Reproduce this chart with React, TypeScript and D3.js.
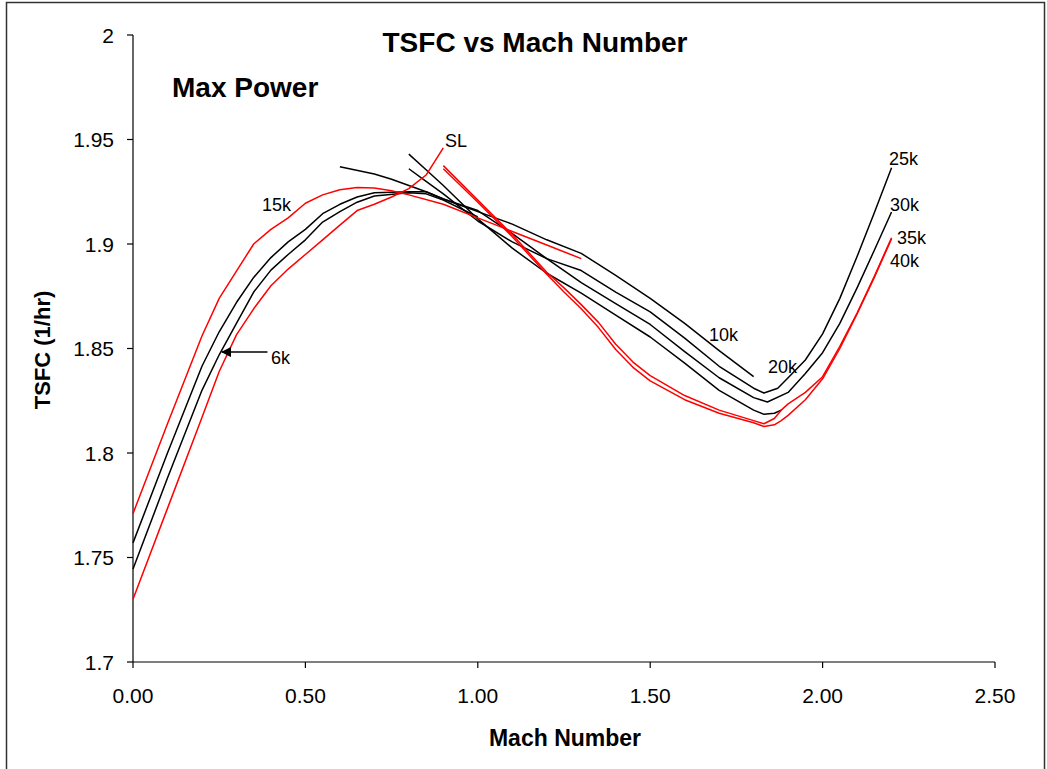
import React from "react";
import * as d3 from "d3";

// ---- Data ----
const xTicks = [0, 0.5, 1.0, 1.5, 2.0, 2.5];
const yTicks = [1.7, 1.75, 1.8, 1.85, 1.9, 1.95, 2.0];

const machSL = [0, 0.1, 0.2, 0.25, 0.3, 0.35, 0.4, 0.45, 0.5, 0.55, 0.6, 0.65, 0.7, 0.75, 0.8, 0.85, 0.9];
const tsfcSL = [1.730, 1.7735, 1.817, 1.839, 1.8565, 1.869, 1.880, 1.888, 1.895, 1.902, 1.909, 1.916, 1.919, 1.9225, 1.9265, 1.933, 1.946];

const mach6k = [0, 0.1, 0.2, 0.25, 0.3, 0.35, 0.4, 0.45, 0.5, 0.55, 0.6, 0.65, 0.7, 0.8, 0.85, 0.9, 0.95, 1.0];
const tsfc6k = [1.7445, 1.788, 1.830, 1.847, 1.862, 1.877, 1.8875, 1.895, 1.902, 1.9105, 1.9155, 1.920, 1.923, 1.9245, 1.924, 1.921, 1.917, 1.913];

const mach10k = [0, 0.1, 0.2, 0.25, 0.3, 0.35, 0.4, 0.45, 0.5, 0.55, 0.6, 0.65, 0.7, 0.8, 0.85, 0.9, 1.0, 1.1, 1.2, 1.3, 1.4, 1.5, 1.6, 1.7, 1.8];
const tsfc10k = [1.757, 1.800, 1.8415, 1.858, 1.872, 1.884, 1.8935, 1.901, 1.907, 1.9145, 1.919, 1.9225, 1.9245, 1.925, 1.925, 1.9215, 1.9155, 1.9095, 1.902, 1.8955, 1.885, 1.874, 1.862, 1.849, 1.8365];

const mach15k = [0, 0.1, 0.2, 0.25, 0.3, 0.35, 0.4, 0.45, 0.5, 0.55, 0.6, 0.65, 0.7, 0.75, 0.8, 0.9, 1.0, 1.1, 1.2, 1.3];
const tsfc15k = [1.771, 1.814, 1.856, 1.874, 1.887, 1.900, 1.907, 1.9125, 1.9195, 1.9235, 1.926, 1.927, 1.9268, 1.9255, 1.9235, 1.919, 1.9125, 1.906, 1.8995, 1.893];

const mach20k = [0.8, 0.85, 0.9, 1.0, 1.1, 1.2, 1.3, 1.4, 1.5, 1.6, 1.7, 1.8, 1.83, 1.86, 1.88];
const tsfc20k = [1.943, 1.9355, 1.928, 1.912, 1.898, 1.886, 1.8765, 1.866, 1.8555, 1.843, 1.830, 1.8205, 1.8185, 1.819, 1.8205];

const mach25k = [0.8, 0.85, 0.9, 1.0, 1.1, 1.2, 1.3, 1.4, 1.5, 1.6, 1.7, 1.8, 1.83, 1.87, 1.9, 1.95, 2.0, 2.05, 2.1, 2.15, 2.2];
const tsfc25k = [1.936, 1.930, 1.924, 1.911, 1.901, 1.893, 1.8873, 1.877, 1.8675, 1.855, 1.8415, 1.831, 1.8287, 1.831, 1.836, 1.8445, 1.857, 1.874, 1.894, 1.915, 1.9365];

const mach30k = [0.6, 0.7, 0.75, 0.8, 0.85, 0.9, 1.0, 1.1, 1.2, 1.3, 1.4, 1.5, 1.6, 1.7, 1.8, 1.84, 1.9, 1.95, 2.0, 2.05, 2.1, 2.15, 2.2];
const tsfc30k = [1.937, 1.9335, 1.931, 1.928, 1.925, 1.9215, 1.916, 1.905, 1.893, 1.8815, 1.8715, 1.8615, 1.8485, 1.836, 1.8265, 1.8244, 1.829, 1.838, 1.848, 1.862, 1.879, 1.897, 1.9153];

const machHigh = [0.9, 1.0, 1.1, 1.2, 1.25, 1.3, 1.35, 1.4, 1.45, 1.5, 1.6, 1.7, 1.8, 1.83, 1.86, 1.88, 1.9, 1.95, 2.0, 2.05, 2.1, 2.15, 2.2];
const tsfc35k = [1.9375, 1.921, 1.9045, 1.8865, 1.879, 1.871, 1.8625, 1.852, 1.8435, 1.837, 1.8275, 1.8205, 1.8155, 1.814, 1.8165, 1.8205, 1.8235, 1.829, 1.8365, 1.851, 1.867, 1.8845, 1.903];
const tsfc40k = [1.936, 1.920, 1.9035, 1.8855, 1.877, 1.869, 1.860, 1.8495, 1.841, 1.8345, 1.8255, 1.819, 1.8145, 1.8127, 1.8135, 1.8155, 1.818, 1.8255, 1.8355, 1.850, 1.8665, 1.884, 1.9025];

const seriesNames = ["6k", "10k", "20k", "25k", "30k", "SL", "15k", "35k", "40k"];
const seriesMach = [mach6k, mach10k, mach20k, mach25k, mach30k, machSL, mach15k, machHigh, machHigh];
const seriesTsfc = [tsfc6k, tsfc10k, tsfc20k, tsfc25k, tsfc30k, tsfcSL, tsfc15k, tsfc35k, tsfc40k];
const seriesColor = ["#000000", "#000000", "#000000", "#000000", "#000000", "#ff0000", "#ff0000", "#ff0000", "#ff0000"];

// Annotation labels: text, anchor at (mach, tsfc) = left / baseline
const labelText = ["SL", "15k", "6k", "10k", "20k", "25k", "30k", "35k", "40k"];
const labelMach = [0.905, 0.374, 0.400, 1.6705, 1.8417, 2.1926, 2.1955, 2.2158, 2.1955];
const labelTsfc = [1.9464, 1.9160, 1.8428, 1.8534, 1.8385, 1.9380, 1.9160, 1.9002, 1.8892];

const W = 1047;
const H = 769;
const FONT = "'Liberation Sans', Arial, Helvetica, sans-serif";

export default function App() {
  const x = d3.scaleLinear().domain([0, 2.5]).range([133, 995]);
  const y = d3.scaleLinear().domain([1.7, 2.0]).range([662, 35]);

  const line = d3
    .line<[number, number]>()
    .x((d) => x(d[0]))
    .y((d) => y(d[1]))
    .curve(d3.curveLinear);

  const fmtY = (v: number) => {
    const s = d3.format(".2f")(v);
    return s.replace(/0$/, "").replace(/\.0$/, "").replace(/\.$/, "");
  };

  return (
    <svg
      width={W}
      height={H}
      style={{ position: "absolute", left: 0, top: 0, background: "#fff" }}
      fontFamily={FONT}
    >
      <rect x={0} y={0} width={W} height={H} fill="#fff" />
      {/* outer frame */}
      <rect x={6.5} y={2.5} width={1038} height={800} fill="none" stroke="#333" strokeWidth={1.5} />

      {/* axes */}
      <line x1={x(0)} x2={x(0)} y1={y(2.0)} y2={y(1.7)} stroke="#000" strokeWidth={1.2} />
      <line x1={x(0)} x2={x(2.5)} y1={y(1.7)} y2={y(1.7)} stroke="#000" strokeWidth={1.2} />
      {yTicks.map((t) => (
        <g key={"yt" + t}>
          <line x1={x(0) - 6} x2={x(0)} y1={y(t)} y2={y(t)} stroke="#000" strokeWidth={1.2} />
          <text x={114} y={y(t)} dy="0.36em" textAnchor="end" fontSize={21} fill="#000">
            {fmtY(t)}
          </text>
        </g>
      ))}
      {xTicks.map((t) => (
        <g key={"xt" + t}>
          <line x1={x(t)} x2={x(t)} y1={y(1.7)} y2={y(1.7) + 6} stroke="#000" strokeWidth={1.2} />
          <text x={x(t)} y={703} textAnchor="middle" fontSize={21} fill="#000">
            {d3.format(".2f")(t)}
          </text>
        </g>
      ))}

      {/* series */}
      {seriesNames.map((name, i) => {
        const pts: [number, number][] = seriesMach[i].map((m, j) => [m, seriesTsfc[i][j]]);
        return (
          <path
            key={name}
            d={line(pts) || ""}
            fill="none"
            stroke={seriesColor[i]}
            strokeWidth={1.5}
            strokeLinejoin="round"
          />
        );
      })}

      {/* arrow for 6k */}
      <defs>
        <marker id="arr" viewBox="0 0 10 10" refX={9} refY={5} markerWidth={7} markerHeight={7} orient="auto">
          <path d="M0,0 L10,5 L0,10 z" fill="#000" />
        </marker>
      </defs>
      <line
        x1={x(0.39)}
        y1={y(1.8483)}
        x2={x(0.258)}
        y2={y(1.8483)}
        stroke="#000"
        strokeWidth={1.5}
        markerEnd="url(#arr)"
      />

      {/* annotation labels */}
      {labelText.map((t, i) => (
        <text key={"lb" + t} x={x(labelMach[i])} y={y(labelTsfc[i])} fontSize={18} fill="#000">
          {t}
        </text>
      ))}

      {/* titles */}
      <text x={535} y={52} textAnchor="middle" fontSize={28} fontWeight="bold" fill="#000">
        TSFC vs Mach Number
      </text>
      <text x={172} y={97} fontSize={28} fontWeight="bold" fill="#000">
        Max Power
      </text>
      <text x={565} y={746} textAnchor="middle" fontSize={23} fontWeight="bold" fill="#000">
        Mach Number
      </text>
      <text
        transform="translate(50,350) rotate(-90)"
        textAnchor="middle"
        fontSize={22}
        fontWeight="bold"
        fill="#000"
      >
        TSFC (1/hr)
      </text>
    </svg>
  );
}
